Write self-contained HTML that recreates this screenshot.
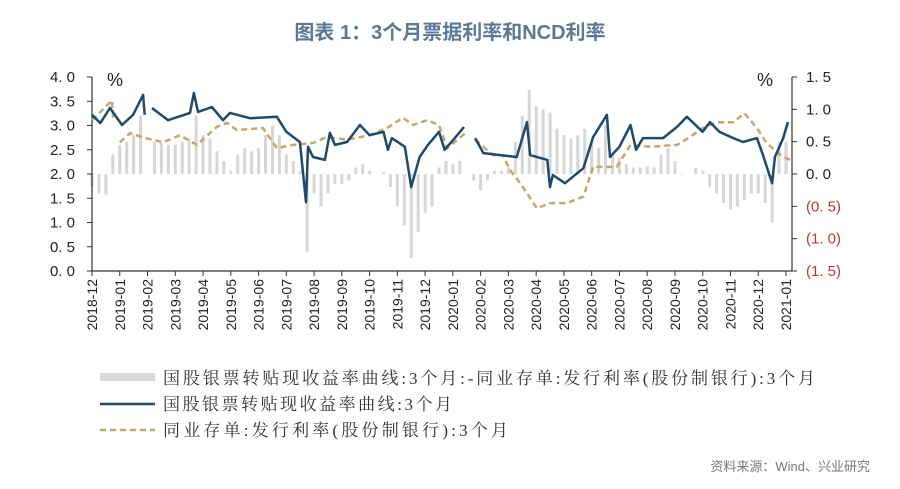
<!DOCTYPE html>
<html><head><meta charset="utf-8"><style>
body{margin:0;background:#fff;width:900px;height:489px;overflow:hidden}
svg{display:block}
</style></head><body>
<svg id="chart" width="900" height="489" xmlns="http://www.w3.org/2000/svg" font-family="'Liberation Sans','Noto Sans CJK SC',sans-serif">
<text x="450" y="39" text-anchor="middle" font-size="20" font-weight="bold" fill="#5b7894" font-family="'Liberation Sans','Noto Sans CJK SC',sans-serif">图表 1：3个月票据利率和NCD利率</text>
<g id="bars"></g>
<g id="axes"></g>
<path id="orange" fill="none" stroke="#c9a46b" stroke-width="2.5" stroke-dasharray="6,4"/>
<path id="blue" fill="none" stroke="#1e4a6e" stroke-width="2.5" stroke-linejoin="round"/>
<text x="107" y="86" font-size="18" fill="#222">%</text>
<text x="757" y="86" font-size="18" fill="#222">%</text>
<g font-family="'Liberation Serif','Noto Serif CJK SC',serif" font-size="17" fill="#333">
<rect x="100" y="373" width="55" height="8" fill="#d9d9d9"/>
<text x="163" y="384" textLength="652" lengthAdjust="spacing">国股银票转贴现收益率曲线:3个月:-同业存单:发行利率(股份制银行):3个月</text>
<line x1="100" y1="404" x2="155" y2="404" stroke="#1e4a6e" stroke-width="2.5"/>
<text x="163" y="410" textLength="289" lengthAdjust="spacing">国股银票转贴现收益率曲线:3个月</text>
<line x1="100" y1="430" x2="155" y2="430" stroke="#c9a46b" stroke-width="2.5" stroke-dasharray="6,4"/>
<text x="163" y="436" textLength="345" lengthAdjust="spacing">同业存单:发行利率(股份制银行):3个月</text>
</g>
<text x="870" y="471" text-anchor="end" font-size="13" fill="#777">资料来源：Wind、兴业研究</text>
</svg>
<script>
const monthLabels=["2018-12","2019-01","2019-02","2019-03","2019-04","2019-05","2019-06","2019-07","2019-08","2019-09","2019-10","2019-11","2019-12","2020-01","2020-02","2020-03","2020-04","2020-05","2020-06","2020-07","2020-08","2020-09","2020-10","2020-11","2020-12","2021-01"];
const leftTicks=[0,0.5,1,1.5,2,2.5,3,3.5,4];
const rightTicks=[-1.5,-1,-0.5,0,0.5,1,1.5];
const blueX=[0,0.3,0.65,1.08,1.48,1.84,1.9,null,2.16,2.74,3.53,3.67,3.82,4.32,4.72,4.97,5.69,6.66,7.0,7.49,7.71,7.78,7.96,8.39,8.57,8.75,9.19,9.65,10.0,10.5,10.66,10.8,11.27,11.5,11.8,12.1,12.5,12.7,13.07,13.4,null,13.8,14.1,15.3,15.67,15.78,16.4,16.5,16.6,17.04,17.7,18.05,18.55,18.66,19.0,19.4,19.6,19.85,20.57,21.07,21.43,22.0,22.26,22.6,23.1,23.45,23.95,24.17,24.5,24.6,24.9,25.07];
const blueY=[3.22,3.05,3.36,3.01,3.22,3.63,3.22,null,3.36,3.11,3.26,3.67,3.28,3.38,3.11,3.26,3.15,3.18,2.87,2.66,1.42,2.56,2.35,2.29,2.85,2.6,2.66,3.01,2.8,2.87,2.5,2.74,2.56,1.73,2.35,2.6,2.87,2.5,2.74,2.97,null,2.74,2.43,2.35,3.07,2.39,2.29,1.73,1.98,1.81,2.12,2.76,3.22,2.35,2.56,3.01,2.5,2.74,2.74,2.97,3.18,2.87,3.07,2.87,2.74,2.66,2.74,2.39,1.81,2.35,2.74,3.07];
const orangeX=[0,0.72,0.76,null,1.0,1.37,1.9,2.56,3.17,3.78,4.5,4.86,5.22,6.16,6.66,7.24,7.96,8.46,9.19,10.0,10.63,11.2,11.56,12.07,12.5,12.8,13.5,null,13.8,14.45,14.8,15.06,15.42,16.03,16.5,17.1,17.7,18.05,18.4,18.9,19.4,20.1,21.07,21.5,22,22.5,23.1,23.5,23.95,24.3,24.9,25.15];
const orangeY=[0.83,1.14,0.87,null,0.49,0.63,0.56,0.49,0.6,0.45,0.73,0.79,0.68,0.71,0.4,0.45,0.48,0.57,0.53,0.6,0.71,0.87,0.76,0.83,0.76,0.4,0.65,null,0.53,0.29,0.29,0.06,-0.14,-0.53,-0.45,-0.45,-0.35,0.11,0.11,0.11,0.45,0.42,0.45,0.56,0.71,0.8,0.8,0.94,0.71,0.48,0.26,0.22];
const spreadStep=0.25;
const spread=[-0.2,-0.3,-0.32,0.3,0.45,0.5,0.6,0.9,null,0.5,0.48,0.45,0.45,0.5,0.55,0.9,0.6,0.55,0.35,0.2,0.05,0.3,0.4,0.35,0.4,0.6,0.75,0.6,0.3,0.2,0.05,-1.2,-0.3,-0.5,-0.3,-0.15,-0.15,-0.1,0.1,0.15,0.05,null,0.03,-0.2,-0.5,-0.8,-1.3,-0.9,-0.6,-0.5,0.1,0.2,0.15,0.2,null,-0.1,-0.25,-0.1,0.05,0.05,0.1,0.5,0.9,1.3,1.05,1.0,0.95,0.7,0.6,0.55,0.6,0.7,0.5,0.4,0.75,0.3,0.25,0.15,0.1,0.1,0.12,0.1,0.3,0.4,0.2,0.0,null,0.1,0.05,-0.2,-0.3,-0.45,-0.55,-0.5,-0.4,-0.3,-0.3,-0.45,-0.75,0.5,0.5];

const X0=92,MW=27.76,Y0=271,LT=77;
const xS=m=>X0+m*MW;
const yL=v=>Y0-v*(Y0-LT)/4;
const yR=v=>174-v*(174-LT)/1.5;
const NS="http://www.w3.org/2000/svg";
function mk(tag,parent,attrs){const e=document.createElementNS(NS,tag);for(const k in attrs)e.setAttribute(k,attrs[k]);parent.appendChild(e);return e;}

const bars=document.getElementById('bars');
spread.forEach((v,i)=>{if(v===null)return;const x=xS(i*spreadStep);const y1=yR(0),y2=yR(v);
const r=mk('rect',bars,{x:x-1.5,y:Math.min(y1,y2),width:3,height:Math.max(0.5,Math.abs(y2-y1)),fill:'#d6d6d6'});

});

function path(xs,ys,yf){let d='',pen=false;xs.forEach((m,i)=>{if(m===null||ys[i]===null){pen=false;return;}d+=(pen?'L':'M')+xS(m).toFixed(1)+','+yf(ys[i]).toFixed(1);pen=true;});return d;}
document.getElementById('blue').setAttribute('d',path(blueX,blueY,yL));
document.getElementById('orange').setAttribute('d',path(orangeX,orangeY,yR));

const ax=document.getElementById('axes');
mk('line',ax,{x1:X0,y1:LT,x2:X0,y2:Y0,stroke:'#333','stroke-width':1.2});
mk('line',ax,{x1:X0,y1:Y0,x2:792,y2:Y0,stroke:'#333','stroke-width':1.2});
mk('line',ax,{x1:792,y1:LT,x2:792,y2:Y0,stroke:'#333','stroke-width':1.2});
leftTicks.forEach(v=>{const y=yL(v);mk('line',ax,{x1:X0-5,y1:y,x2:X0,y2:y,stroke:'#333'});
const t=mk('text',ax,{x:75,y:y+5,'text-anchor':'end','font-size':15,fill:'#222'});t.textContent=v.toFixed(1).replace('.','. ');

});
rightTicks.forEach(v=>{const y=yR(v);mk('line',ax,{x1:792,y1:y,x2:797,y2:y,stroke:'#333'});
const s=Math.abs(v).toFixed(1).replace('.','. ');
const t=mk('text',ax,{x:806,y:y+5,'font-size':15,fill:v<0?'#c0392b':'#222'});t.textContent=v<0?'('+s+')':s;

});
monthLabels.forEach((l,i)=>{const x=xS(i);mk('line',ax,{x1:x,y1:Y0,x2:x,y2:Y0+5,stroke:'#333'});
const t=mk('text',ax,{x:0,y:0,'font-size':14,fill:'#222','text-anchor':'end',transform:`translate(${x+5},${Y0+8}) rotate(-90)`});t.textContent=l;

});
</script>
</body></html>
